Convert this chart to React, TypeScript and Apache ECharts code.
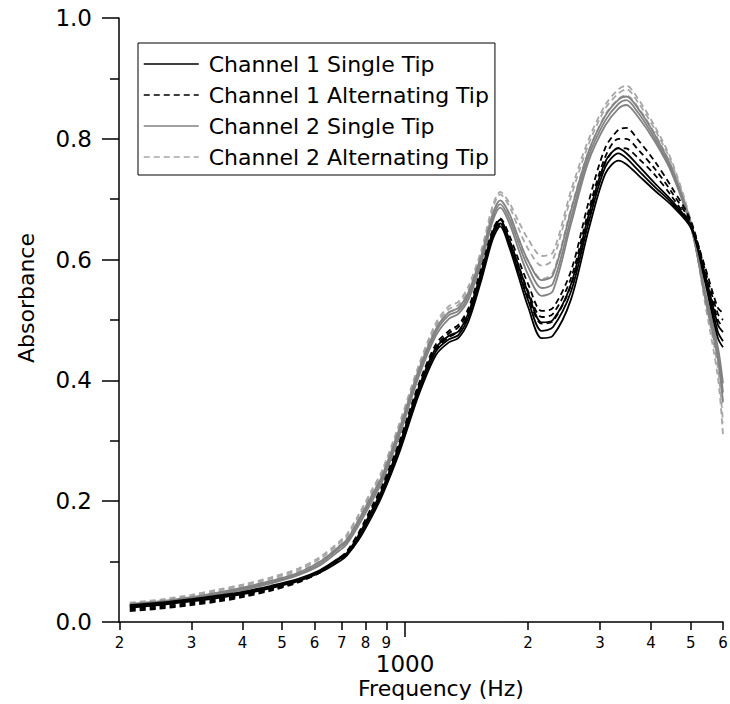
import React, { useEffect, useRef } from "react";
import * as echarts from "echarts";

const FREQ = [212, 250, 300, 350, 400, 470, 550, 620, 690, 720, 770, 830, 880, 970, 1080, 1190, 1280, 1350, 1430, 1540, 1640, 1710, 1800, 1900, 2000, 2160, 2300, 2550, 2810, 3090, 3330, 3480, 3720, 4090, 4490, 5010, 5410, 5830, 6000];

const ch1SingleA = [0.026, 0.030, 0.036, 0.042, 0.048, 0.058, 0.070, 0.084, 0.104, 0.112, 0.140, 0.180, 0.215, 0.288, 0.382, 0.448, 0.468, 0.475, 0.505, 0.575, 0.640, 0.660, 0.625, 0.578, 0.533, 0.482, 0.488, 0.548, 0.660, 0.753, 0.776, 0.768, 0.748, 0.720, 0.694, 0.654, 0.572, 0.480, 0.465];
const ch1SingleB = [0.024, 0.028, 0.034, 0.040, 0.046, 0.056, 0.068, 0.082, 0.100, 0.110, 0.136, 0.175, 0.210, 0.282, 0.376, 0.442, 0.463, 0.470, 0.498, 0.568, 0.634, 0.655, 0.620, 0.570, 0.522, 0.470, 0.474, 0.535, 0.648, 0.742, 0.764, 0.758, 0.740, 0.714, 0.690, 0.652, 0.578, 0.492, 0.480];
const ch1SingleC = [0.028, 0.032, 0.038, 0.044, 0.050, 0.060, 0.072, 0.086, 0.106, 0.114, 0.144, 0.185, 0.220, 0.294, 0.388, 0.454, 0.474, 0.481, 0.512, 0.582, 0.646, 0.666, 0.632, 0.588, 0.545, 0.496, 0.500, 0.560, 0.672, 0.762, 0.784, 0.776, 0.756, 0.726, 0.698, 0.656, 0.566, 0.470, 0.455];

const ch1AltA = [0.018, 0.022, 0.028, 0.034, 0.041, 0.052, 0.066, 0.082, 0.104, 0.115, 0.145, 0.188, 0.222, 0.295, 0.390, 0.455, 0.478, 0.488, 0.515, 0.582, 0.645, 0.662, 0.632, 0.588, 0.548, 0.505, 0.510, 0.570, 0.680, 0.770, 0.800, 0.800, 0.782, 0.750, 0.712, 0.660, 0.585, 0.510, 0.500];
const ch1AltB = [0.022, 0.026, 0.032, 0.038, 0.044, 0.055, 0.068, 0.083, 0.102, 0.112, 0.140, 0.182, 0.216, 0.290, 0.384, 0.450, 0.472, 0.480, 0.508, 0.576, 0.640, 0.658, 0.626, 0.580, 0.538, 0.494, 0.498, 0.558, 0.668, 0.760, 0.785, 0.784, 0.768, 0.740, 0.705, 0.656, 0.590, 0.520, 0.512];
const ch1AltC = [0.020, 0.024, 0.030, 0.036, 0.043, 0.054, 0.067, 0.084, 0.106, 0.117, 0.148, 0.192, 0.226, 0.300, 0.394, 0.460, 0.482, 0.492, 0.520, 0.588, 0.650, 0.668, 0.640, 0.598, 0.560, 0.515, 0.520, 0.582, 0.694, 0.785, 0.815, 0.818, 0.798, 0.762, 0.720, 0.664, 0.580, 0.500, 0.488];

const ch2SingleA = [0.028, 0.032, 0.039, 0.047, 0.055, 0.066, 0.080, 0.097, 0.122, 0.133, 0.165, 0.205, 0.238, 0.316, 0.412, 0.480, 0.508, 0.515, 0.540, 0.603, 0.670, 0.692, 0.668, 0.625, 0.588, 0.553, 0.560, 0.670, 0.770, 0.830, 0.858, 0.864, 0.843, 0.800, 0.748, 0.655, 0.545, 0.445, 0.380];
const ch2SingleB = [0.026, 0.030, 0.037, 0.045, 0.053, 0.064, 0.078, 0.094, 0.118, 0.129, 0.160, 0.200, 0.233, 0.310, 0.406, 0.474, 0.502, 0.510, 0.534, 0.597, 0.664, 0.686, 0.660, 0.615, 0.575, 0.540, 0.548, 0.660, 0.762, 0.822, 0.850, 0.856, 0.836, 0.795, 0.744, 0.653, 0.550, 0.455, 0.395];
const ch2SingleC = [0.030, 0.034, 0.041, 0.049, 0.057, 0.068, 0.082, 0.100, 0.125, 0.136, 0.169, 0.210, 0.243, 0.321, 0.417, 0.485, 0.513, 0.520, 0.546, 0.609, 0.676, 0.698, 0.676, 0.634, 0.598, 0.566, 0.574, 0.682, 0.778, 0.838, 0.865, 0.870, 0.850, 0.806, 0.752, 0.657, 0.540, 0.435, 0.365];

const ch2AltA = [0.030, 0.035, 0.043, 0.052, 0.060, 0.072, 0.087, 0.105, 0.130, 0.142, 0.175, 0.215, 0.248, 0.325, 0.420, 0.490, 0.518, 0.525, 0.550, 0.612, 0.685, 0.708, 0.688, 0.650, 0.618, 0.590, 0.600, 0.705, 0.790, 0.850, 0.875, 0.882, 0.860, 0.815, 0.760, 0.660, 0.540, 0.420, 0.330];
const ch2AltB = [0.027, 0.032, 0.040, 0.049, 0.057, 0.069, 0.084, 0.101, 0.126, 0.138, 0.170, 0.210, 0.243, 0.320, 0.415, 0.484, 0.512, 0.519, 0.544, 0.606, 0.676, 0.698, 0.675, 0.632, 0.598, 0.568, 0.578, 0.685, 0.778, 0.840, 0.866, 0.872, 0.852, 0.808, 0.754, 0.658, 0.548, 0.435, 0.355];
const ch2AltC = [0.032, 0.037, 0.045, 0.054, 0.062, 0.074, 0.089, 0.108, 0.133, 0.145, 0.178, 0.219, 0.252, 0.330, 0.425, 0.495, 0.523, 0.530, 0.556, 0.618, 0.690, 0.712, 0.694, 0.662, 0.634, 0.606, 0.612, 0.715, 0.798, 0.856, 0.882, 0.888, 0.866, 0.820, 0.764, 0.662, 0.532, 0.405, 0.310];

const X_TICKS = [200, 300, 400, 500, 600, 700, 800, 900, 2000, 3000, 4000, 5000, 6000];
const X_MAJOR = [1000];
const NAMES = ["Channel 1 Single Tip", "Channel 1 Alternating Tip", "Channel 2 Single Tip", "Channel 2 Alternating Tip"];

const toPts = (vals: number[]) => FREQ.map((f, i) => [f, vals[i]]);

export default function App() {
  const ref = useRef<HTMLDivElement>(null);
  useEffect(() => {
    if (!ref.current) return;
    const chart = echarts.init(ref.current, null, { renderer: "svg" });
    const mk = (name: string, vals: number[], color: string, dashed: boolean) => ({
      type: "line",
      name,
      data: toPts(vals),
      symbol: "none",
      smooth: 0.3,
      lineStyle: { color, width: 1.8, type: dashed ? [6, 4] : "solid" },
      itemStyle: { color },
    });
    const G1 = "#828282";
    const G2 = "#a6a6a6";
    const B = "#000000";
    const series = [
      mk(NAMES[3], ch2AltA, G2, true),
      mk(NAMES[3], ch2AltB, G2, true),
      mk(NAMES[3], ch2AltC, G2, true),
      mk(NAMES[2], ch2SingleA, G1, false),
      mk(NAMES[2], ch2SingleB, G1, false),
      mk(NAMES[2], ch2SingleC, G1, false),
      mk(NAMES[1], ch1AltA, B, true),
      mk(NAMES[1], ch1AltB, B, true),
      mk(NAMES[1], ch1AltC, B, true),
      mk(NAMES[0], ch1SingleA, B, false),
      mk(NAMES[0], ch1SingleB, B, false),
      mk(NAMES[0], ch1SingleC, B, false),
    ];
    const axisLine = { show: true, onZero: false, lineStyle: { color: "#000", width: 1.5 } };
    const leadDigit = (v: number) => {
      const e = Math.floor(Math.log10(v) + 1e-9);
      return String(Math.round(v / Math.pow(10, e)));
    };
    chart.setOption({
      animation: false,
      textStyle: { fontFamily: "DejaVu Sans", color: "#000" },
      grid: { left: 119, right: 7, top: 18, bottom: 82, containLabel: false, outerBoundsMode: "none" },
      legend: {
        orient: "vertical",
        left: 138,
        top: 43,
        padding: [10, 6, 7, 5],
        itemGap: 9,
        itemWidth: 55,
        itemHeight: 14,
        borderColor: "#000",
        borderWidth: 1,
        selectedMode: false,
        itemStyle: { opacity: 0 },
        lineStyle: { width: 1.5 },
        textStyle: { fontSize: 22, color: "#000", padding: [0, 0, 0, 5] },
        data: NAMES,
      },
      xAxis: [
        {
          type: "log",
          logBase: 10,
          min: 199.5,
          max: 6000,
          position: "bottom",
          axisLine,
          axisTick: { show: true, length: 8, customValues: X_TICKS, lineStyle: { color: "#000", width: 1.5 } },
          axisLabel: { customValues: X_TICKS, formatter: (v: number) => leadDigit(v), fontSize: 15, margin: 13, color: "#000" },
          splitLine: { show: false },
          name: "Frequency (Hz)",
          nameLocation: "middle",
          nameGap: 55,
          nameTextStyle: { fontSize: 22, color: "#000", padding: [0, 0, 0, 40] },
        },
        {
          type: "log",
          logBase: 10,
          min: 199.5,
          max: 6000,
          position: "bottom",
          axisLine: { show: false },
          axisTick: { show: true, length: 15, customValues: X_MAJOR, lineStyle: { color: "#000", width: 1.5 } },
          axisLabel: { customValues: X_MAJOR, formatter: (v: number) => String(Math.round(v)), fontSize: 23, margin: 30, color: "#000" },
          splitLine: { show: false },
        },
      ],
      yAxis: {
        type: "value",
        min: 0,
        max: 1,
        interval: 0.2,
        axisLine,
        axisTick: { show: true, length: 17, lineStyle: { color: "#000", width: 1.5 } },
        minorTick: { show: true, splitNumber: 2, length: 9, lineStyle: { color: "#000", width: 1.5 } },
        axisLabel: { formatter: (v: number) => v.toFixed(1), fontSize: 23, margin: 27, color: "#000" },
        splitLine: { show: false },
        name: "Absorbance",
        nameLocation: "middle",
        nameGap: 82,
        nameTextStyle: { fontSize: 22, color: "#000", padding: [0, 0, 0, 44] },
      },
      series,
    });
    return () => chart.dispose();
  }, []);
  return <div ref={ref} style={{ position: "absolute", left: 0, top: 0, width: 730, height: 704 }} />;
}
